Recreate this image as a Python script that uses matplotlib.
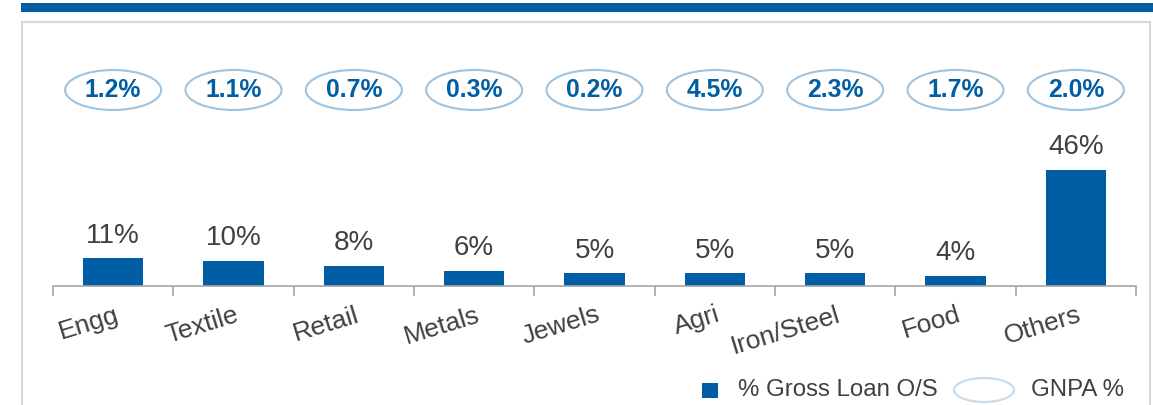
import matplotlib.pyplot as plt
from matplotlib.patches import Ellipse, Rectangle
import numpy as np

plt.rcParams['font.family'] = ['Liberation Sans', 'DejaVu Sans']

sectors = ['Engg', 'Textile', 'Retail', 'Metals', 'Jewels', 'Agri', 'Iron/Steel', 'Food', 'Others']
loan_share = [11, 10, 8, 6, 5, 5, 5, 4, 46]       # % Gross Loan O/S
gnpa = [1.2, 1.1, 0.7, 0.3, 0.2, 4.5, 2.3, 1.7, 2.0]  # GNPA %

blue = '#005EA5'
grey_txt = '#404040'
W, H = 1153, 405
dpi = 100
px = 2.52  # pixels per percentage point

fig = plt.figure(figsize=(W / dpi, H / dpi), dpi=dpi)

# header band and frame
fig.patches.append(Rectangle((21 / W, 1 - 12 / H), 1 - 21 / W, 9 / H, transform=fig.transFigure,
                             facecolor=blue, edgecolor='none'))
fig.patches.append(Rectangle((22 / W, -0.05), 1128 / W, 1 - 22 / H + 0.05, transform=fig.transFigure,
                             facecolor='none', edgecolor='#D9D9D9', lw=1.5))

x0, x1 = 53, 1136
y_base, y_top = 286, 50
ax = fig.add_axes([x0 / W, 1 - y_base / H, (x1 - x0) / W, (y_base - y_top) / H])
ax.set_xlim(-0.5, len(sectors) - 0.5)
ax.set_ylim(0, (y_base - y_top) / px)
ax.patch.set_visible(False)

x = np.arange(len(sectors))
ax.bar(x, loan_share, width=0.5, color=blue, zorder=2)
for xi, v in zip(x, loan_share):
    ax.annotate(f'{v}%', (xi, v), xytext=(0, 7), textcoords='offset points',
                ha='center', va='bottom', fontsize=20, color=grey_txt)

# GNPA ellipses
ey = (y_base - 90) / px
for xi, g in zip(x, gnpa):
    ax.add_patch(Ellipse((xi, ey), 96 / 120.3, 40 / px, facecolor='white',
                         edgecolor='#9DC3E0', lw=1.5, zorder=3))
    ax.text(xi, ey, f'{g:.1f}%', ha='center', va='center', fontsize=17.8,
            fontweight='bold', color=blue, zorder=4)

for s in ['top', 'right', 'left']:
    ax.spines[s].set_visible(False)
ax.spines['bottom'].set_color('#A6A6A6')
ax.spines['bottom'].set_linewidth(1.2)
ax.set_yticks([])
ax.set_xticks(x)
ax.set_xticklabels([])
ax.tick_params(axis='x', which='major', length=0)
ax.set_xticks(np.arange(len(sectors) + 1) - 0.5, minor=True)
ax.tick_params(axis='x', which='minor', length=7, width=1.2, color='#A6A6A6')
for xi, s in zip(x, sectors):
    ax.annotate(s, (xi + 0.01, 0), xytext=(0, -12), textcoords='offset points',
                ha='right', va='top', rotation=17, rotation_mode='anchor',
                fontsize=19, color=grey_txt)

# legend
fig.patches.append(Rectangle((702 / W, 1 - 398 / H), 16 / W, 15 / H, transform=fig.transFigure,
                             facecolor=blue, edgecolor='none'))
fig.text(738 / W, 1 - 390 / H, '% Gross Loan O/S', fontsize=17.3, color=grey_txt, va='center')
fig.patches.append(Ellipse((984 / W, 1 - 390 / H), 60 / W, 24 / H, transform=fig.transFigure,
                           facecolor='white', edgecolor='#C5DAEC', lw=1.5))
fig.text(1031 / W, 1 - 390 / H, 'GNPA %', fontsize=17.3, color=grey_txt, va='center')

fig.savefig('out.png', dpi=dpi)
